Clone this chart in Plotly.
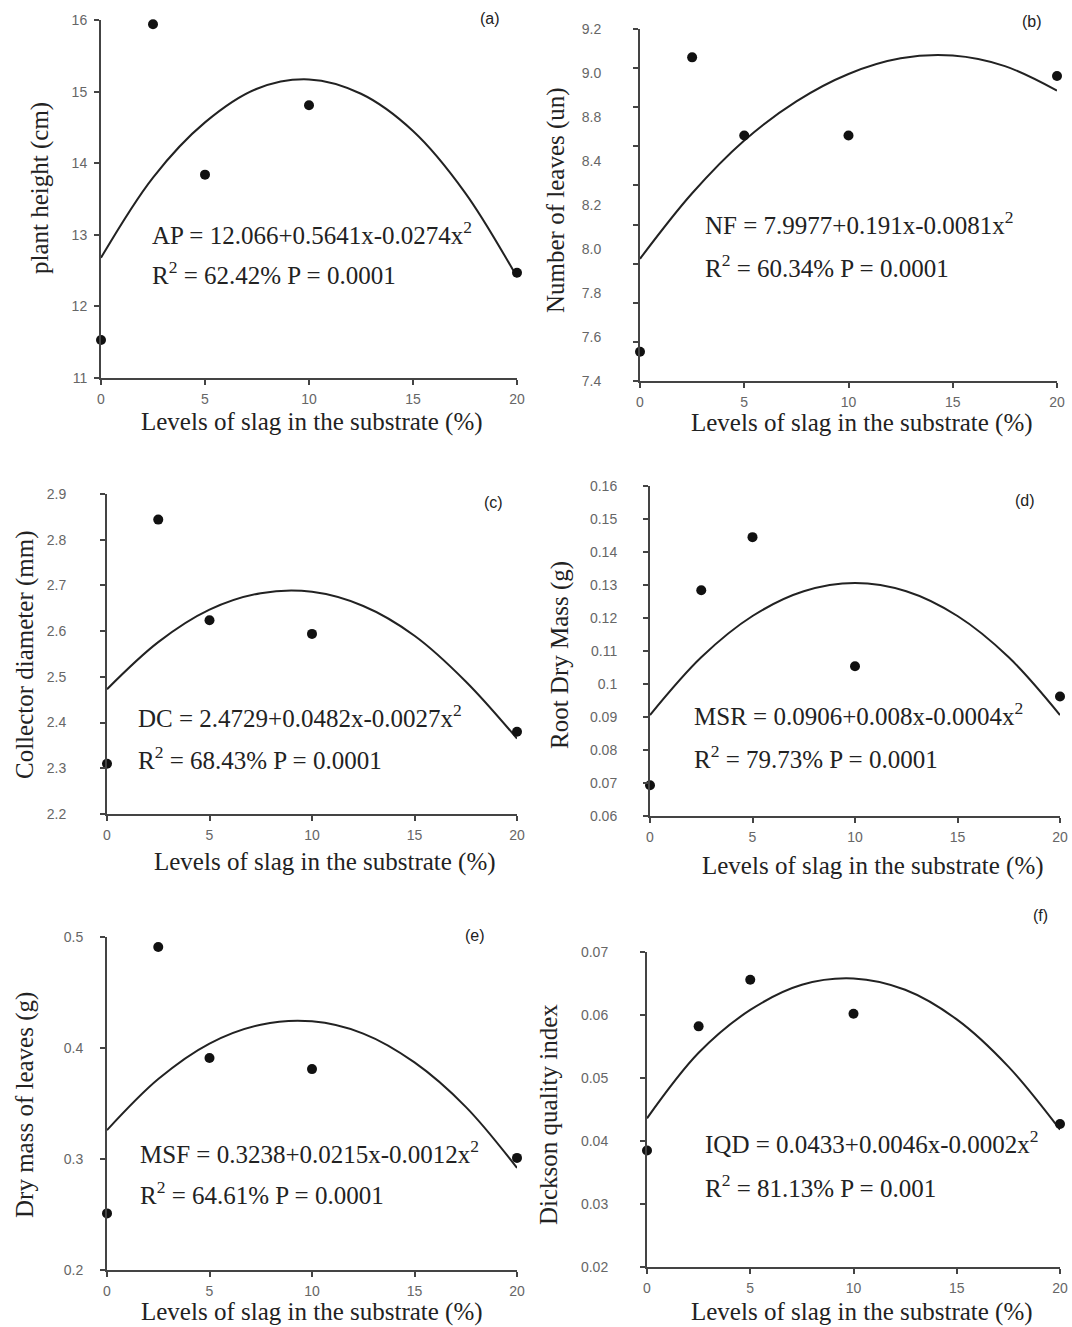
import plotly.graph_objects as go
import numpy as np

W, H = 1072, 1327

# ---------------- data ----------------
x_levels = [0, 2.5, 5, 10, 20]
curve_x = [0, 2.5, 5, 7.5, 10, 12.5, 15, 17.5, 20]

height_cm = [11.53, 15.94, 13.84, 14.81, 12.47]
height_fit = [12.68, 13.80, 14.57, 15.04, 15.17, 14.97, 14.45, 13.59, 12.41]

leaves_un = [7.55, 9.055, 8.655, 8.655, 8.96]
leaves_fit = [8.025, 8.36, 8.63, 8.83, 8.97, 9.05, 9.064, 9.01, 8.885]

diam_mm = [2.31, 2.844, 2.624, 2.594, 2.38]
diam_fit = [2.473, 2.576, 2.647, 2.683, 2.686, 2.655, 2.59, 2.49, 2.365]

root_g = [0.0693, 0.1284, 0.1445, 0.1054, 0.0962]
root_fit = [0.0906, 0.1081, 0.1206, 0.1281, 0.1306, 0.1281, 0.1206, 0.1081, 0.0906]

leafmass_g = [0.251, 0.491, 0.391, 0.381, 0.301]
leafmass_fit = [0.326, 0.372, 0.404, 0.421, 0.424, 0.413, 0.387, 0.347, 0.292]

dickson = [0.0385, 0.0582, 0.0656, 0.0602, 0.0427]
dickson_fit = [0.0436, 0.0540, 0.0608, 0.0648, 0.0658, 0.0640, 0.0593, 0.0518, 0.0418]

x_ticks = [0, 5, 10, 15, 20]
a_ticks = [11, 12, 13, 14, 15, 16]
b_ticktext = ['9.2', '9.0', '8.8', '8.4', '8.2', '8.0', '7.8', '7.6', '7.4']
b_tickmarks = [7.4, 7.6, 7.8, 8.0, 8.2, 8.4, 8.6, 8.8, 9.0, 9.2]
c_ticks = [2.2, 2.3, 2.4, 2.5, 2.6, 2.7, 2.8, 2.9]
d_ticks = [0.06, 0.07, 0.08, 0.09, 0.10, 0.11, 0.12, 0.13, 0.14, 0.15, 0.16]
d_ticktext = ['0.06', '0.07', '0.08', '0.09', '0.1', '0.11', '0.12', '0.13', '0.14', '0.15', '0.16']
e_ticks = [0.2, 0.3, 0.4, 0.5]
f_ticks = [0.02, 0.03, 0.04, 0.05, 0.06, 0.07]

x_title = "Levels of slag in the substrate (%)"

panels = [
    dict(pts=height_cm, fit=height_fit, yr=[11, 16], box=[101, 517, 20, 378], stand=4,
         tv=a_ticks, tt=[str(t) for t in a_ticks],
         ytitle="plant height (cm)", ytpos=(40, 188), label="(a)", lpos=(490, 18),
         eq="AP = 12.066+0.5641x-0.0274x<sup>2</sup>", eqpos=(150, 233),
         r2="R<sup>2</sup> = 62.42% P = 0.0001", r2pos=(150, 273), xtpos=(312, 422)),
    dict(pts=leaves_un, fit=leaves_fit, yr=[7.4, 9.2], box=[640, 1057, 29, 381], stand=29,
         tv=list(np.linspace(9.2, 7.4, len(b_ticktext))), tt=b_ticktext, minor=b_tickmarks,
         ytitle="Number of leaves (un)", ytpos=(556, 200), label="(b)", lpos=(1032, 22),
         eq="NF = 7.9977+0.191x-0.0081x<sup>2</sup>", eqpos=(703, 223),
         r2="R<sup>2</sup> = 60.34% P = 0.0001", r2pos=(703, 266), xtpos=(862, 423)),
    dict(pts=diam_mm, fit=diam_fit, yr=[2.2, 2.9], box=[107, 517, 494, 814], stand=31,
         tv=c_ticks, tt=[f"{t:.1f}" for t in c_ticks],
         ytitle="Collector diameter (mm)", ytpos=(25, 655), label="(c)", lpos=(493, 503),
         eq="DC = 2.4729+0.0482x-0.0027x<sup>2</sup>", eqpos=(136, 716),
         r2="R<sup>2</sup> = 68.43% P = 0.0001", r2pos=(136, 758), xtpos=(325, 862)),
    dict(pts=root_g, fit=root_fit, yr=[0.06, 0.16], box=[650, 1060, 486, 816], stand=23,
         tv=d_ticks, tt=d_ticktext,
         ytitle="Root Dry Mass (g)", ytpos=(560, 655), label="(d)", lpos=(1025, 500),
         eq="MSR = 0.0906+0.008x-0.0004x<sup>2</sup>", eqpos=(692, 714),
         r2="R<sup>2</sup> = 79.73% P = 0.0001", r2pos=(692, 757), xtpos=(873, 866)),
    dict(pts=leafmass_g, fit=leafmass_fit, yr=[0.2, 0.5], box=[107, 517, 937, 1270], stand=14,
         tv=e_ticks, tt=[f"{t:.1f}" for t in e_ticks],
         ytitle="Dry mass of leaves (g)", ytpos=(25, 1105), label="(e)", lpos=(475, 935),
         eq="MSF = 0.3238+0.0215x-0.0012x<sup>2</sup>", eqpos=(138, 1152),
         r2="R<sup>2</sup> = 64.61% P = 0.0001", r2pos=(138, 1193), xtpos=(312, 1312)),
    dict(pts=dickson, fit=dickson_fit, yr=[0.02, 0.07], box=[647, 1060, 952, 1267], stand=29,
         tv=f_ticks, tt=[f"{t:.2f}" for t in f_ticks],
         ytitle="Dickson quality index", ytpos=(548, 1115), label="(f)", lpos=(1040, 915),
         eq="IQD = 0.0433+0.0046x-0.0002x<sup>2</sup>", eqpos=(703, 1142),
         r2="R<sup>2</sup> = 81.13% P = 0.001", r2pos=(703, 1186), xtpos=(862, 1312)),
]

fig = go.Figure()
annotations = []
SERIF = "Liberation Serif, Times New Roman, serif"
SANS = "Liberation Sans, Arial, sans-serif"
TXT = "#222222"
BIG = 25


def px(x):
    return x / W


def py(y):
    return 1 - y / H


for i, p in enumerate(panels, start=1):
    xa = f"x{i}" if i > 1 else "x"
    ya = f"y{i}" if i > 1 else "y"
    fig.add_trace(go.Scatter(x=curve_x, y=p["fit"], mode="lines",
                             line=dict(color="#222", width=2, shape="spline"),
                             xaxis=xa, yaxis=ya, hoverinfo="skip", cliponaxis=False))
    fig.add_trace(go.Scatter(x=x_levels, y=p["pts"], mode="markers",
                             marker=dict(color="#111", size=10),
                             xaxis=xa, yaxis=ya, cliponaxis=False))
    l, r, t, b = p["box"]
    common = dict(showline=True, linecolor="#444", linewidth=2, showgrid=False, zeroline=False,
                  ticks="outside", ticklen=5, tickwidth=1.5, tickcolor="#444", automargin=False,
                  tickfont=dict(family=SANS, size=14, color="#666"))
    xkey = "xaxis" if i == 1 else f"xaxis{i}"
    ykey = "yaxis" if i == 1 else f"yaxis{i}"
    xax = dict(common, domain=[px(l), px(r)], range=[0, 20], anchor=ya,
               tickmode="array", tickvals=x_ticks, ticklabelstandoff=2)
    yax = dict(common, domain=[py(b), py(t)], range=p["yr"], anchor=xa, tickmode="array",
               tickvals=p["tv"], ticktext=p["tt"], ticklabelstandoff=p["stand"])
    if "minor" in p:
        yax["ticks"] = ""
        yax["ticklabelstandoff"] = p["stand"] + 5
        yax["minor"] = dict(tickmode="array", tickvals=p["minor"], ticks="outside", ticklen=5,
                            tickwidth=1.5, tickcolor="#444")
    fig.update_layout(**{xkey: xax, ykey: yax})

    annotations.append(dict(text=p["ytitle"], x=px(p["ytpos"][0]), y=py(p["ytpos"][1]), textangle=-90,
                            xref="paper", yref="paper", showarrow=False, xanchor="center", yanchor="middle",
                            font=dict(family=SERIF, size=BIG, color=TXT)))
    annotations.append(dict(text=x_title, x=px(p["xtpos"][0]), y=py(p["xtpos"][1]),
                            xref="paper", yref="paper", showarrow=False, xanchor="center", yanchor="middle",
                            font=dict(family=SERIF, size=BIG, color=TXT)))
    annotations.append(dict(text=p["label"], x=px(p["lpos"][0]), y=py(p["lpos"][1]),
                            xref="paper", yref="paper", showarrow=False, xanchor="center", yanchor="middle",
                            font=dict(family=SANS, size=16, color=TXT)))
    annotations.append(dict(text=p["eq"], x=px(p["eqpos"][0]), y=py(p["eqpos"][1]),
                            xref="paper", yref="paper", showarrow=False, xanchor="left", yanchor="middle",
                            font=dict(family=SERIF, size=BIG, color=TXT)))
    annotations.append(dict(text=p["r2"], x=px(p["r2pos"][0]), y=py(p["r2pos"][1]),
                            xref="paper", yref="paper", showarrow=False, xanchor="left", yanchor="middle",
                            font=dict(family=SERIF, size=BIG, color=TXT)))

fig.update_layout(width=W, height=H, margin=dict(l=0, r=0, t=0, b=0, autoexpand=False),
                  showlegend=False, paper_bgcolor="white", plot_bgcolor="white",
                  annotations=annotations)

post = (
    "document.documentElement.style.margin='0';"
    "document.body.style.margin='0';"
    "document.documentElement.style.overflow='hidden';"
    "document.body.style.overflow='hidden';"
)
fig.write_html("out.html", post_script=post, config={"displayModeBar": False})
